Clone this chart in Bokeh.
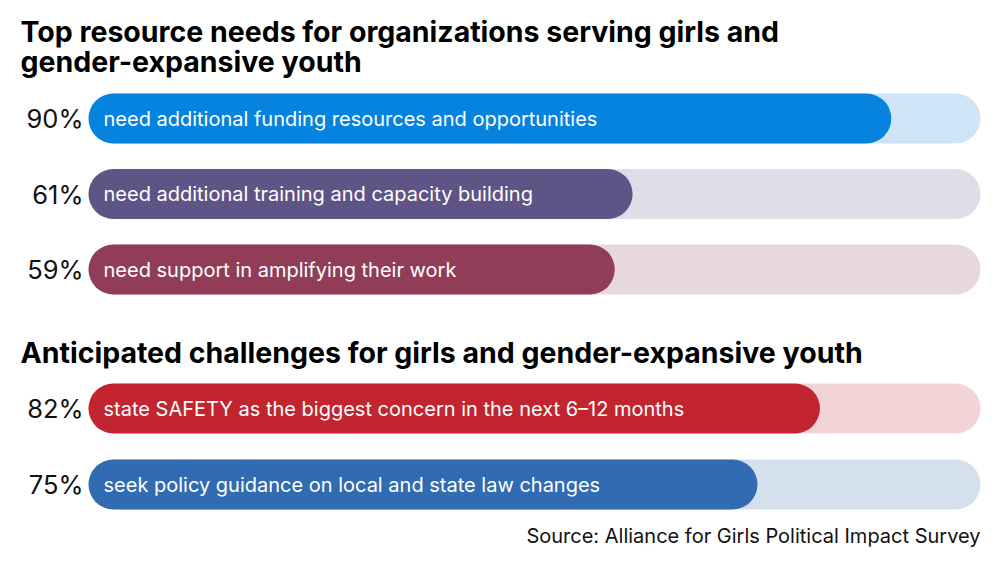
from bokeh.core.properties import value
from bokeh.embed import file_html
from bokeh.models import ColumnDataSource, Range1d
from bokeh.plotting import figure
from bokeh.resources import INLINE

# data
pct = [90, 61, 59, 82, 75]
labels = [
    "need additional funding resources and opportunities",
    "need additional training and capacity building",
    "need support in amplifying their work",
    "state SAFETY as the biggest concern in the next 6\u201312 months",
    "seek policy guidance on local and state law changes",
]
bar_colors = ["#0583de", "#5e5485", "#913d58", "#c2252f", "#316bb1"]
track_colors = ["#cfe5f7", "#dfdde8", "#e8d8de", "#f2d4d6", "#d5e0ee"]
titles = ["Top resource needs for organizations serving girls and",
          "gender-expansive youth",
          "Anticipated challenges for girls and gender-expansive youth"]
source_note = "Source: Alliance for Girls Political Impact Survey"

# layout (page pixels, y measured down from the top of the window)
row_y = [118, 193.5, 269, 408, 484]
title_y = [31, 61, 352]   # text anchors (rendered ~10px lower)
bar_h = 50
FONT = "Inter"

W, H = 984, 549
x0_px, x100_px = 88, 980  # where 0% and 100% sit on the page
ppu = (x100_px - x0_px) / 100
x_range = Range1d((0 - x0_px) / ppu, (W - x0_px) / ppu)
y_range = Range1d(H, 0)

p = figure(width=W, height=H, x_range=x_range, y_range=y_range,
           output_backend="svg", toolbar_location=None,
           min_border=0, outline_line_color=None, background_fill_color="white")
p.axis.visible = False
p.grid.visible = False

src = ColumnDataSource(dict(
    y=row_y, pct=pct, full=[100] * len(pct), label=labels,
    pct_text=[f"{v}%" for v in pct], color=bar_colors, track=track_colors,
))

p.hbar(y="y", left=0, right="full", height=bar_h, fill_color="track",
       line_color=None, border_radius=25, source=src)
p.hbar(y="y", left=0, right="pct", height=bar_h, fill_color="color",
       line_color=None, border_radius=25, source=src)

p.text(x=0, y="y", text="label", x_offset=15, source=src,
       text_font=value(FONT), text_font_size="20px", text_color="white",
       text_align="left", text_baseline="middle")
p.text(x=0, y="y", text="pct_text", x_offset=-5, source=src,
       text_font=value(FONT), text_font_size="25.5px", text_color="#111111",
       text_align="right", text_baseline="middle")

# titles start 68px left of the 0% line
p.text(x=[-68 / ppu] * len(titles), y=title_y, text=titles,
       text_font=value(FONT), text_font_size="28.5px", text_font_style="bold",
       text_color="black", text_align="left", text_baseline="alphabetic")
p.text(x=[100], y=[535], text=[source_note],
       text_font=value(FONT), text_font_size="20px", text_color="#111111",
       text_align="right", text_baseline="alphabetic")

open("out.html", "w").write(file_html(p, INLINE))
